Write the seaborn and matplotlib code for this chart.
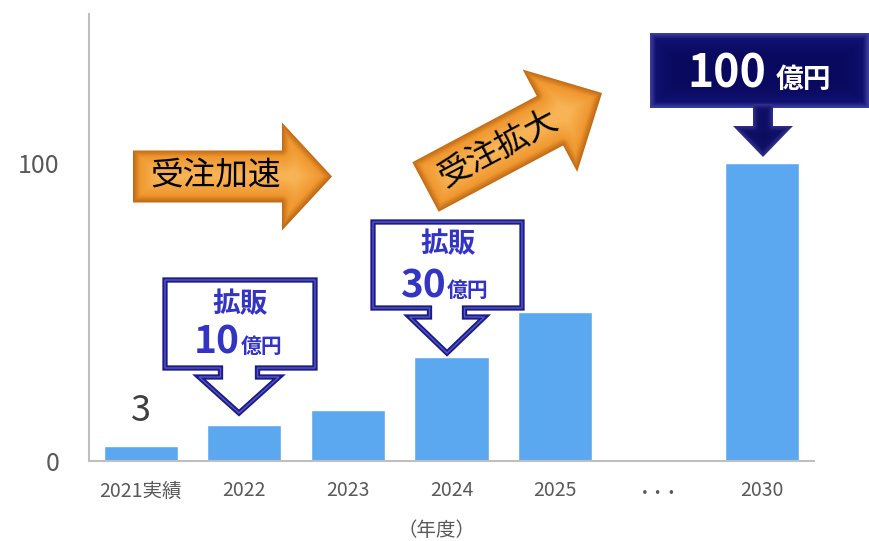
import numpy as np
import pandas as pd
import matplotlib
matplotlib.use("Agg")
import matplotlib.pyplot as plt
import matplotlib.transforms as mtransforms
import seaborn as sns
from matplotlib.patches import Polygon

# data
categories = ["2021実績", "2022", "2023", "2024", "2025", "・・・", "2030"]
values = [5, 12, 17, 35, 50, np.nan, 100]
first_label = "3"
y_ticks = [0, 100]
x_title = "（年度）"

sns.set_style("white")
plt.rcParams['font.family'] = ['Noto Sans CJK JP', 'DejaVu Sans']

W, H = 870, 541
fig = plt.figure(figsize=(W / 100, H / 100), dpi=100)
ax = fig.add_axes([89 / W, 1 - 461 / H, (814 - 89) / W, (461 - 14) / H])

df = pd.DataFrame({"year": categories, "value": values})
sns.barplot(data=df, x="year", y="value", order=categories, color="#5BA8F0",
            saturation=1, width=0.715, errorbar=None, ax=ax)

sns.despine(ax=ax)
for s in ["left", "bottom"]:
    ax.spines[s].set_color("#BFBFBF")
    ax.spines[s].set_linewidth(1.5)
ax.set_xlim(-0.5, 6.5)
ax.set_ylim(0, 150)
ax.set_yticks(y_ticks)
ax.tick_params(axis='y', length=0, pad=21, labelsize=18, labelcolor="#595959")
ax.tick_params(axis='x', length=0, pad=14, labelsize=14, labelcolor="#595959")
ax.set_ylabel("")
ax.set_xlabel(x_title, fontsize=14, color="#595959")
ax.xaxis.set_label_coords(0.48, -0.132)

ax.annotate(first_label, xy=(0, values[0]), xytext=(0, 25), textcoords='offset points',
            ha='center', va='center', fontsize=26, color="#404040")

# overlay in pixel coordinates for the callouts
ov = fig.add_axes([0, 0, 1, 1], zorder=5)
ov.set_xlim(0, W)
ov.set_ylim(H, 0)
ov.axis('off')


def seg_dist(px, py, pts):
    d = np.full(px.shape, np.inf)
    n = len(pts)
    for i in range(n):
        (x1, y1), (x2, y2) = pts[i], pts[(i + 1) % n]
        dx, dy = x2 - x1, y2 - y1
        t = np.clip(((px - x1) * dx + (py - y1) * dy) / (dx * dx + dy * dy), 0, 1)
        d = np.minimum(d, np.hypot(px - (x1 + t * dx), py - (y1 + t * dy)))
    return d


def bevel_shape(pts, edge, mid, inner, depth, z=6):
    pts = np.asarray(pts, float)
    x0, y0 = pts.min(0) - 1
    x1, y1 = pts.max(0) + 1
    xs = np.linspace(x0, x1, int((x1 - x0) * 2))
    ys = np.linspace(y0, y1, int((y1 - y0) * 2))
    gx, gy = np.meshgrid(xs, ys)
    d = seg_dist(gx, gy, pts)
    f = np.clip(d / depth, 0, 1)[..., None]
    g = np.clip((d - depth) / (depth * 2.5), 0, 1)[..., None]
    edge, mid, inner = (np.array(c, float) / 255 for c in (edge, mid, inner))
    img = edge * (1 - f) + mid * f
    img = img * (1 - g) + inner * g
    poly = Polygon(pts, closed=True, facecolor='none', edgecolor='none')
    ov.add_patch(poly)
    im = ov.imshow(img, extent=(x0, x1, y1, y0), origin='upper', aspect='auto',
                   interpolation='bilinear', zorder=z)
    im.set_clip_path(poly)


def arrow_pts(tail, tip, body_w, head_w, head_len):
    tail = np.array(tail, float)
    tip = np.array(tip, float)
    u = (tip - tail) / np.linalg.norm(tip - tail)
    n = np.array([-u[1], u[0]])
    base = tip - u * head_len
    return [tail + n * body_w / 2, base + n * body_w / 2, base + n * head_w / 2, tip,
            base - n * head_w / 2, base - n * body_w / 2, tail - n * body_w / 2]


def callout_pts(left, top, right, bottom, cx, stem_w, stem_len, head_w, tip_y):
    hb = bottom + stem_len
    return [(left, top), (right, top), (right, bottom), (cx + stem_w / 2, bottom),
            (cx + stem_w / 2, hb), (cx + head_w / 2, hb), (cx, tip_y), (cx - head_w / 2, hb),
            (cx - stem_w / 2, hb), (cx - stem_w / 2, bottom), (left, bottom)]


orange = dict(edge=(190, 104, 20), mid=(240, 152, 48), inner=(248, 180, 86), depth=7)
bevel_shape(arrow_pts((133, 176.5), (332, 176.5), 52, 108, 50), **orange)
bevel_shape(arrow_pts((425.5, 187), (602, 93), 56, 116, 59), **orange)
ov.text(216, 175, "受注加速", ha='center', va='center', fontsize=23.5, color="black", zorder=10)
ov.text(498, 149, "受注拡大", ha='center', va='center', fontsize=23.5, color="black",
        rotation=28, rotation_mode='anchor', zorder=10)

# outlined callouts
text_blue = "#3434C4"
for pts in [callout_pts(165, 280, 315, 368, 239, 37, 9, 80, 413),
            callout_pts(373, 222, 522, 308, 447, 35, 9, 75, 353)]:
    ov.add_patch(Polygon(pts, closed=True, facecolor="white", edgecolor="#1C1C86",
                         linewidth=3.8, joinstyle='miter', zorder=7))
    ov.add_patch(Polygon(pts, closed=True, facecolor="none", edgecolor="#5656C8",
                         linewidth=1.0, joinstyle='miter', zorder=7))

ov.text(240, 304, "拡販", ha='center', va='center', fontsize=20, fontweight='bold',
        color=text_blue, zorder=10)
ov.text(240, 353, "10", ha='right', va='baseline', fontsize=28, fontweight='bold',
        color=text_blue, zorder=10)
ov.text(241, 353, "億円", ha='left', va='baseline', fontsize=15, fontweight='bold',
        color=text_blue, zorder=10)
ov.text(448, 244, "拡販", ha='center', va='center', fontsize=20, fontweight='bold',
        color=text_blue, zorder=10)
ov.text(446, 297, "30", ha='right', va='baseline', fontsize=28, fontweight='bold',
        color=text_blue, zorder=10)
ov.text(447, 297, "億円", ha='left', va='baseline', fontsize=15, fontweight='bold',
        color=text_blue, zorder=10)

# navy 2030 box
navy = dict(edge=(64, 64, 158), mid=(16, 16, 112), inner=(10, 10, 96), depth=6)
bevel_shape([(650, 33), (869, 33), (869, 108), (650, 108)], **navy)
bevel_shape([(753, 104), (773, 104), (773, 126), (793, 126), (763, 157), (733, 126), (753, 126)],
            edge=(50, 50, 140), mid=(16, 16, 104), inner=(10, 10, 90), depth=5, z=7)
ov.text(766, 88, "100", ha='right', va='baseline', fontsize=32, fontweight='bold',
        color="white", zorder=10)
ov.text(776, 88, "億円", ha='left', va='baseline', fontsize=20, fontweight='bold',
        color="white", zorder=10)

ov.set_xlim(0, W)
ov.set_ylim(H, 0)

# the ellipsis label is tighter in the original: smaller font, nudged down to line up
shift = mtransforms.ScaledTranslation(0, -7 / 100, fig.dpi_scale_trans)
for lab in ax.get_xticklabels():
    if lab.get_text() == "・・・":
        lab.set_fontsize(10)
        lab.set_fontweight('bold')
        lab.set_transform(lab.get_transform() + shift)

fig.savefig("out.png", dpi=100)
